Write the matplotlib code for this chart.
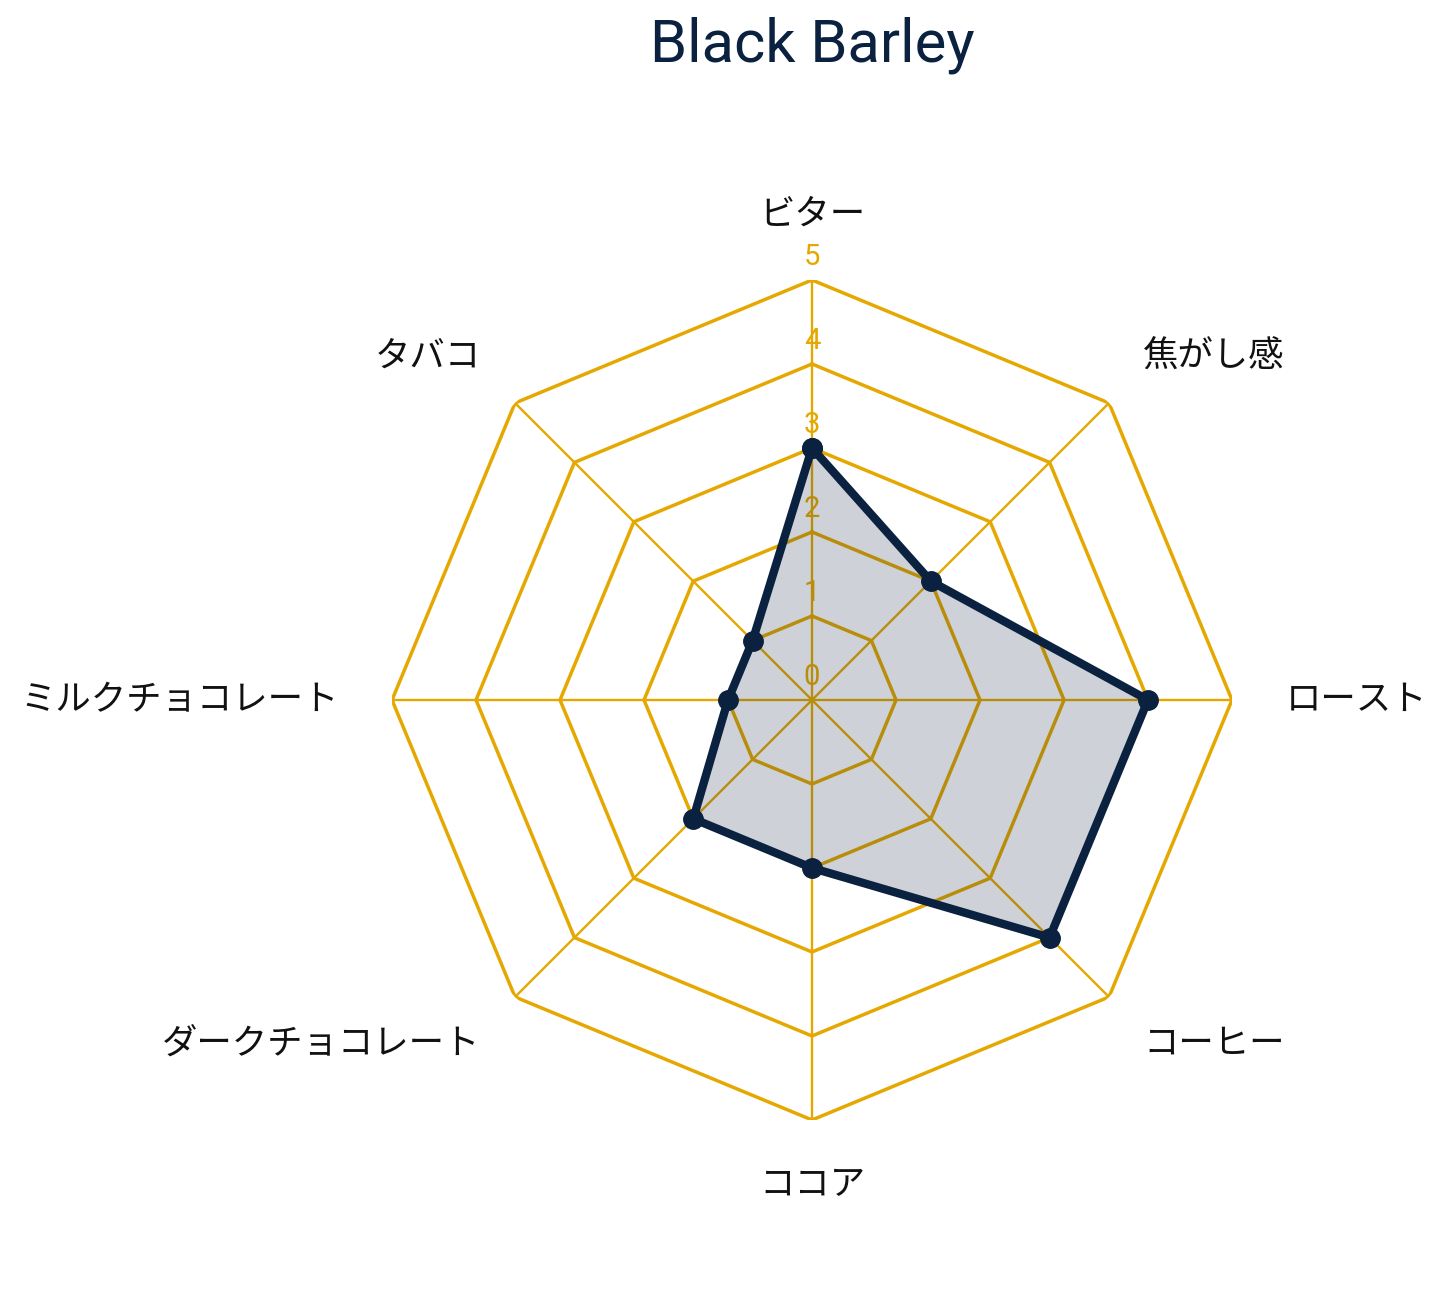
import numpy as np
import matplotlib
matplotlib.use('Agg')
import matplotlib.pyplot as plt

# data
categories = ['ビター', '焦がし感', 'ロースト', 'コーヒー', 'ココア',
              'ダークチョコレート', 'ミルクチョコレート', 'タバコ']
values = [3, 2, 4, 4, 2, 2, 1, 1]
ticks = [0, 1, 2, 3, 4, 5]
title = 'Black Barley'

GOLD = '#E5A800'
NAVY = '#0B2140'
plt.rcParams['font.family'] = ['Noto Sans CJK JP', 'DejaVu Sans']

fig = plt.figure(figsize=(14.45, 13.09), dpi=100)
fig.patch.set_facecolor('white')
ax = fig.add_axes([0.2713, 0.1444, 0.5813, 0.6417], polar=True)
ax.set_theta_zero_location('N')
ax.set_theta_direction(-1)
ax.set_ylim(0, 5)
ax.axis('off')

n = len(categories)
theta = np.linspace(0, 2 * np.pi, n, endpoint=False)
theta_c = np.append(theta, theta[0])

# polygon grid
for t in ticks[1:]:
    ax.plot(theta_c, [t] * (n + 1), color=GOLD, lw=2.5, zorder=1)
for a in theta:
    ax.plot([a, a], [0, ticks[-1]], color=GOLD, lw=1.7, zorder=1)

# tick labels
for t in ticks:
    ax.text(0, t + 0.27, str(t), color=GOLD, fontsize=21, ha='center', va='center',
            family=['Roboto', 'DejaVu Sans'], zorder=2)

# data
vals = values + values[:1]
ax.fill(theta_c, vals, color=NAVY, alpha=0.2, lw=0, zorder=3)
ax.plot(theta_c, vals, color=NAVY, lw=6, marker='o', markersize=14, zorder=4,
        solid_joinstyle='round')

# category labels
for a, lab in zip(theta, categories):
    s = np.sin(a)
    if abs(s) < 0.01:
        ha, dx = 'center', 0
    elif s > 0:
        ha, dx = 'left', -12
    else:
        ha, dx = 'right', 12
    ax.annotate(lab, xy=(a, 5.78), xytext=(dx, 0), textcoords='offset pixels',
                fontsize=25.5, ha=ha, va='center', color='#111111',
                annotation_clip=False)

fig.text(0.562, 1 - 45 / 1309, title, fontsize=43, color=NAVY, ha='center', va='center',
         family=['Roboto', 'DejaVu Sans'])

fig.savefig('out.png', dpi=100)
